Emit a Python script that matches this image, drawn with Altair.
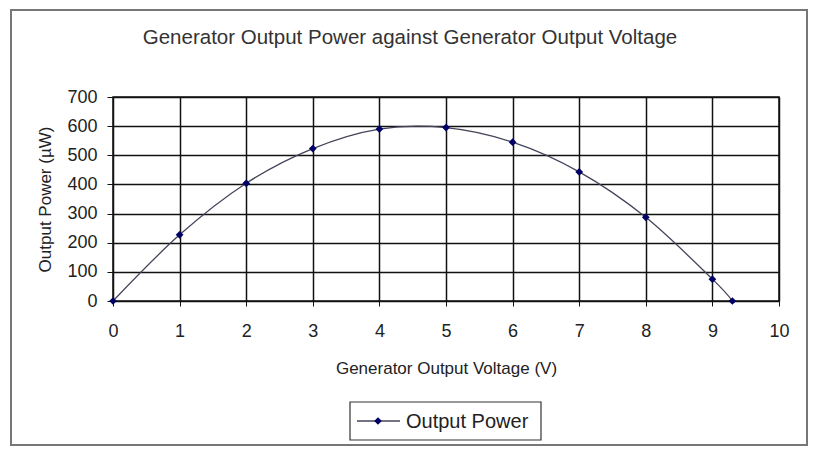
import altair as alt
import pandas as pd

# Data
voltage = [0, 1, 2, 3, 4, 5, 6, 7, 8, 9, 9.3]
power = [0, 227, 404, 523, 590, 595, 545, 443, 287, 75, 0]
series_name = "Output Power"
title_text = "Generator Output Power against Generator Output Voltage"
x_title = "Generator Output Voltage (V)"
y_title = "Output Power (µW)"
x_ticks = list(range(0, 11))
y_ticks = list(range(0, 701, 100))

df = pd.DataFrame({"V": voltage, "P": power, "series": series_name})

FONT = "Liberation Sans"
W, H = 666, 204

x_enc = alt.X("V:Q", scale=alt.Scale(domain=[0, 10], nice=False),
              axis=alt.Axis(values=x_ticks, format="d", title=x_title, grid=True,
                            gridColor="#111", gridWidth=1.5, gridOpacity=1,
                            domain=False, tickColor="#111", tickSize=5,
                            labelFontSize=18, labelFont=FONT, labelColor="#222",
                            labelPadding=16, labelFlush=False, labelOverlap=False,
                            titleFont=FONT, titleFontSize=17,
                            titleFontWeight="normal", titleColor="#222",
                            titlePadding=20))
y_enc = alt.Y("P:Q", scale=alt.Scale(domain=[0, 700], nice=False),
              axis=alt.Axis(values=y_ticks, format="d", title=y_title, grid=True,
                            gridColor="#111", gridWidth=1.5, gridOpacity=1,
                            domain=False, tickColor="#111", tickSize=6,
                            labelFontSize=18, labelFont=FONT, labelColor="#222",
                            labelPadding=10, labelFlush=False, labelOverlap=False,
                            titleFont=FONT, titleFontSize=17,
                            titleFontWeight="normal", titleColor="#222",
                            titlePadding=12))

line = alt.Chart(df).mark_line(interpolate="cardinal", color="#44445a",
                               strokeWidth=1.3).encode(x=x_enc, y=y_enc)
pts = alt.Chart(df).mark_point(shape="diamond", filled=True, size=60,
                               color="#000066", opacity=1).encode(x=x_enc, y=y_enc)

# Outer frame and title
frame = alt.Chart(pd.DataFrame({"a": [0]})).mark_rect(
    fill=None, stroke="#777", strokeWidth=2, clip=False
).encode(x=alt.value(-102), x2=alt.value(694), y=alt.value(-87), y2=alt.value(348))

title = alt.Chart(pd.DataFrame({"t": [title_text]})).mark_text(
    font=FONT, fontSize=20.5, color="#333", baseline="middle", align="center"
).encode(text="t:N", x=alt.value(297), y=alt.value(-59))

# Legend box
leg_box = alt.Chart(pd.DataFrame({"a": [0]})).mark_rect(
    fill="white", stroke="#333", strokeWidth=1.2
).encode(x=alt.value(237), x2=alt.value(428), y=alt.value(305), y2=alt.value(343))
leg_line = alt.Chart(pd.DataFrame({"a": [0]})).mark_rule(
    color="#44445a", strokeWidth=1.3
).encode(x=alt.value(244), x2=alt.value(287), y=alt.value(324))
leg_pt = alt.Chart(pd.DataFrame({"a": [0]})).mark_point(
    shape="diamond", filled=True, size=60, color="#000066", opacity=1
).encode(x=alt.value(265), y=alt.value(324))
leg_text = alt.Chart(pd.DataFrame({"t": [series_name]})).mark_text(
    font=FONT, fontSize=20, color="#222", align="left", baseline="middle"
).encode(text="t:N", x=alt.value(293), y=alt.value(325))

chart = alt.layer(frame, line, pts, title, leg_box, leg_line, leg_pt, leg_text).properties(
    width=W, height=H,
    autosize=alt.AutoSizeParams(type="none"),
    padding={"left": 105, "top": 89, "right": 33, "bottom": 147},
    background="white",
).configure_view(stroke="#111", strokeWidth=1.5)

chart.save("out.html", embed_options={"renderer": "svg", "actions": False})
